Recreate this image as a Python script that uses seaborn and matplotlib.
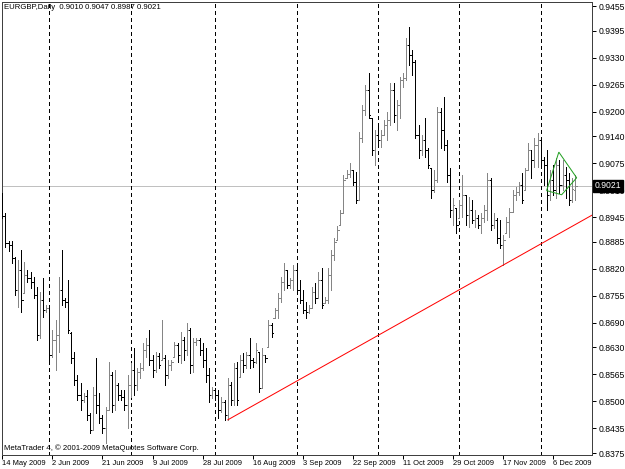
import numpy as np
import pandas as pd
import matplotlib
matplotlib.use('Agg')
import matplotlib.pyplot as plt
import matplotlib.transforms as mtransforms
import seaborn as sns

# EURGBP daily bars, 14 May 2009 .. 14 Dec 2009 (broker sends Sunday bars, no Saturdays)
opens = [
    0.8998, 0.8948, 0.8882, 0.8878, 0.8846, 0.8769, 0.8817, 0.8762, 0.8805, 0.8798,
    0.8788, 0.8757, 0.8660, 0.8745, 0.8721, 0.8725, 0.8612, 0.8648, 0.8660, 0.8769,
    0.8745, 0.8740, 0.8665, 0.8605, 0.8551, 0.8515, 0.8503, 0.8513, 0.8467, 0.8431,
    0.8515, 0.8491, 0.8460, 0.8435, 0.8479, 0.8564, 0.8491, 0.8539, 0.8515, 0.8510,
    0.8491, 0.8539, 0.8576, 0.8539, 0.8571, 0.8580, 0.8624, 0.8636, 0.8600, 0.8576,
    0.8609, 0.8600, 0.8605, 0.8564, 0.8588, 0.8607, 0.8636, 0.8612, 0.8648, 0.8624,
    0.8672, 0.8588, 0.8643, 0.8648, 0.8624, 0.8600, 0.8564, 0.8515, 0.8527, 0.8515,
    0.8479, 0.8498, 0.8467, 0.8539, 0.8503, 0.8580, 0.8559, 0.8600, 0.8588, 0.8612,
    0.8600, 0.8595, 0.8619, 0.8532, 0.8612, 0.8631, 0.8684, 0.8701, 0.8721, 0.8750,
    0.8788, 0.8817, 0.8781, 0.8793, 0.8817, 0.8769, 0.8745, 0.8721, 0.8716, 0.8725,
    0.8764, 0.8750, 0.8793, 0.8737, 0.8745, 0.8805, 0.8853, 0.8890, 0.8926, 0.8955,
    0.9039, 0.9049, 0.9059, 0.9030, 0.8986, 0.9136, 0.9204, 0.9252, 0.9184, 0.9107,
    0.9143, 0.9131, 0.9143, 0.9168, 0.9180, 0.9252, 0.9192, 0.9216, 0.9276, 0.9281,
    0.9361, 0.9337, 0.9320, 0.9143, 0.9107, 0.9131, 0.9107, 0.9064, 0.9010, 0.9035,
    0.9199, 0.9155, 0.9119, 0.9047, 0.8962, 0.8967, 0.8943, 0.8974, 0.8998, 0.8950,
    0.8962, 0.8938, 0.8943, 0.8926, 0.8943, 0.8962, 0.9035, 0.8926, 0.8938, 0.8895,
    0.8878, 0.8907, 0.8933, 0.8957, 0.8998, 0.9006, 0.9023, 0.9010, 0.9059, 0.9107,
    0.9083, 0.9119, 0.9131, 0.9083, 0.9071, 0.8998, 0.9035, 0.9010, 0.9071, 0.9023,
    0.9047, 0.9035, 0.8986, 0.9010,
]
highs = [
    0.9003, 0.8955, 0.8887, 0.8887, 0.8849, 0.8841, 0.8866, 0.8837, 0.8817, 0.8812,
    0.8800, 0.8776, 0.8764, 0.8798, 0.8733, 0.8728, 0.8672, 0.8696, 0.8800, 0.8866,
    0.8750, 0.8793, 0.8667, 0.8619, 0.8564, 0.8544, 0.8520, 0.8527, 0.8472, 0.8535,
    0.8605, 0.8520, 0.8467, 0.8486, 0.8595, 0.8571, 0.8576, 0.8544, 0.8527, 0.8527,
    0.8564, 0.8593, 0.8629, 0.8580, 0.8593, 0.8641, 0.8653, 0.8672, 0.8612, 0.8619,
    0.8617, 0.8696, 0.8612, 0.8600, 0.8600, 0.8643, 0.8641, 0.8667, 0.8655, 0.8689,
    0.8677, 0.8653, 0.8653, 0.8653, 0.8641, 0.8629, 0.8580, 0.8535, 0.8532, 0.8527,
    0.8510, 0.8503, 0.8556, 0.8547, 0.8593, 0.8595, 0.8612, 0.8617, 0.8619, 0.8653,
    0.8605, 0.8641, 0.8619, 0.8629, 0.8612, 0.8696, 0.8689, 0.8725, 0.8762, 0.8800,
    0.8834, 0.8817, 0.8798, 0.8829, 0.8829, 0.8793, 0.8769, 0.8740, 0.8733, 0.8776,
    0.8786, 0.8812, 0.8822, 0.8752, 0.8822, 0.8866, 0.8895, 0.8923, 0.8962, 0.9047,
    0.9059, 0.9076, 0.9059, 0.9054, 0.9151, 0.9216, 0.9264, 0.9293, 0.9184, 0.9155,
    0.9172, 0.9155, 0.9180, 0.9199, 0.9269, 0.9269, 0.9228, 0.9284, 0.9293, 0.9378,
    0.9404, 0.9349, 0.9325, 0.9168, 0.9143, 0.9184, 0.9112, 0.9064, 0.9059, 0.9211,
    0.9209, 0.9235, 0.9131, 0.9064, 0.8991, 0.8967, 0.8986, 0.9047, 0.8998, 0.8994,
    0.8986, 0.8962, 0.8950, 0.8955, 0.8974, 0.9051, 0.9039, 0.8955, 0.8943, 0.8938,
    0.8902, 0.8945, 0.8967, 0.9010, 0.9018, 0.9030, 0.9051, 0.9064, 0.9124, 0.9107,
    0.9136, 0.9148, 0.9131, 0.9090, 0.9107, 0.9059, 0.9071, 0.9088, 0.9083, 0.9083,
    0.9066, 0.9051, 0.9039, 0.9047,
]
lows = [
    0.8943, 0.8873, 0.8863, 0.8834, 0.8757, 0.8728, 0.8716, 0.8762, 0.8788, 0.8774,
    0.8750, 0.8648, 0.8653, 0.8704, 0.8716, 0.8600, 0.8607, 0.8576, 0.8619, 0.8733,
    0.8728, 0.8665, 0.8593, 0.8539, 0.8503, 0.8479, 0.8498, 0.8455, 0.8423, 0.8431,
    0.8472, 0.8448, 0.8423, 0.8399, 0.8479, 0.8474, 0.8479, 0.8503, 0.8503, 0.8479,
    0.8435, 0.8510, 0.8515, 0.8527, 0.8556, 0.8576, 0.8607, 0.8588, 0.8559, 0.8571,
    0.8580, 0.8600, 0.8539, 0.8556, 0.8576, 0.8607, 0.8595, 0.8593, 0.8600, 0.8612,
    0.8568, 0.8571, 0.8636, 0.8612, 0.8583, 0.8547, 0.8498, 0.8508, 0.8503, 0.8460,
    0.8474, 0.8455, 0.8455, 0.8491, 0.8491, 0.8491, 0.8559, 0.8571, 0.8580, 0.8580,
    0.8583, 0.8593, 0.8522, 0.8532, 0.8595, 0.8631, 0.8655, 0.8701, 0.8701, 0.8740,
    0.8769, 0.8774, 0.8774, 0.8769, 0.8762, 0.8737, 0.8713, 0.8701, 0.8713, 0.8725,
    0.8737, 0.8750, 0.8725, 0.8737, 0.8737, 0.8769, 0.8841, 0.8890, 0.8926, 0.8955,
    0.9039, 0.9042, 0.9023, 0.8979, 0.8986, 0.9126, 0.9192, 0.9184, 0.9095, 0.9071,
    0.9114, 0.9114, 0.9143, 0.9131, 0.9168, 0.9175, 0.9155, 0.9184, 0.9259, 0.9276,
    0.9312, 0.9288, 0.9136, 0.9088, 0.9095, 0.9090, 0.9064, 0.8991, 0.9006, 0.9030,
    0.9112, 0.9107, 0.9030, 0.8945, 0.8926, 0.8907, 0.8943, 0.8945, 0.8926, 0.8921,
    0.8931, 0.8921, 0.8919, 0.8907, 0.8933, 0.8938, 0.8914, 0.8919, 0.8882, 0.8870,
    0.8829, 0.8907, 0.8897, 0.8957, 0.8986, 0.8998, 0.8979, 0.9010, 0.9059, 0.9039,
    0.9066, 0.9066, 0.9064, 0.9023, 0.8962, 0.8986, 0.8998, 0.8991, 0.9003, 0.9010,
    0.8991, 0.8974, 0.8981, 0.8987,
]
closes = [
    0.8948, 0.8882, 0.8878, 0.8846, 0.8769, 0.8817, 0.8745, 0.8805, 0.8798, 0.8788,
    0.8757, 0.8660, 0.8745, 0.8721, 0.8725, 0.8612, 0.8648, 0.8660, 0.8769, 0.8745,
    0.8740, 0.8672, 0.8605, 0.8551, 0.8515, 0.8503, 0.8513, 0.8467, 0.8431, 0.8515,
    0.8491, 0.8460, 0.8435, 0.8479, 0.8564, 0.8491, 0.8539, 0.8515, 0.8510, 0.8491,
    0.8539, 0.8576, 0.8539, 0.8571, 0.8580, 0.8624, 0.8636, 0.8600, 0.8576, 0.8609,
    0.8588, 0.8605, 0.8564, 0.8588, 0.8595, 0.8636, 0.8612, 0.8648, 0.8624, 0.8672,
    0.8588, 0.8643, 0.8648, 0.8624, 0.8600, 0.8564, 0.8515, 0.8527, 0.8515, 0.8479,
    0.8498, 0.8467, 0.8539, 0.8503, 0.8580, 0.8503, 0.8600, 0.8588, 0.8612, 0.8600,
    0.8595, 0.8624, 0.8532, 0.8612, 0.8605, 0.8684, 0.8665, 0.8721, 0.8750, 0.8788,
    0.8817, 0.8781, 0.8793, 0.8817, 0.8769, 0.8745, 0.8721, 0.8716, 0.8725, 0.8764,
    0.8750, 0.8793, 0.8733, 0.8745, 0.8805, 0.8853, 0.8885, 0.8914, 0.8955, 0.9035,
    0.9049, 0.9059, 0.9030, 0.8986, 0.9136, 0.9204, 0.9252, 0.9192, 0.9107, 0.9143,
    0.9131, 0.9143, 0.9168, 0.9180, 0.9252, 0.9192, 0.9216, 0.9276, 0.9281, 0.9361,
    0.9337, 0.9320, 0.9143, 0.9107, 0.9131, 0.9107, 0.9071, 0.9010, 0.9035, 0.9199,
    0.9155, 0.9119, 0.9047, 0.8962, 0.8974, 0.8926, 0.8974, 0.8998, 0.8950, 0.8962,
    0.8938, 0.8943, 0.8926, 0.8943, 0.8962, 0.9035, 0.8926, 0.8938, 0.8895, 0.8878,
    0.8890, 0.8933, 0.8957, 0.8998, 0.9006, 0.9023, 0.8986, 0.9059, 0.9107, 0.9083,
    0.9119, 0.9131, 0.9083, 0.9071, 0.8998, 0.9035, 0.9010, 0.9071, 0.9023, 0.9047,
    0.9035, 0.8986, 0.9013, 0.9021,
]

first_day = '2009-05-14'
last_day = '2009-12-14'
date_labels = ['2009-05-14', '2009-06-02', '2009-06-21', '2009-07-09', '2009-07-28', '2009-08-16',
               '2009-09-03', '2009-09-22', '2009-10-11', '2009-10-29', '2009-11-17', '2009-12-06']
price_ticks = ['0.9455', '0.9395', '0.9330', '0.9265', '0.9200', '0.9140', '0.9075', '0.9010', '0.8945',
               '0.8885', '0.8820', '0.8755', '0.8690', '0.8630', '0.8565', '0.8500', '0.8435', '0.8375']
bid = 0.9021

# trendline anchors (bar index, price) and the small triangle object
trend_a = (72, 0.8455)
trend_b = (160, 0.8829)
tri_idx = [173.9, 177.8, 183.5, 178.7]
tri_price = [0.9009, 0.9102, 0.9040, 0.8999]

BAR_UP = '#858585'
BAR_DOWN = '#000000'
PX = 0.72  # one pixel in points at dpi 100

sns.set_theme(style='white')
plt.rcParams['font.family'] = ['Liberation Sans', 'DejaVu Sans']
FS = 6.2        # price scale
FS_SMALL = 5.4  # dates
FS_TEXT = 5.6   # header / copyright

days = pd.date_range(first_day, last_day, freq='D')
days = days[days.dayofweek != 5]
o = np.array(opens)
h = np.array(highs)
l = np.array(lows)
c = np.array(closes)
idx = np.arange(len(c))

fig = plt.figure(figsize=(6.25, 4.69), dpi=100)
ax = fig.add_axes([2 / 625, 14 / 469, 590 / 625, 453 / 469])
ax.set_facecolor('white')

ax.set_xlim(-0.11, 188.4)
ax.set_ylim(0.83702, 0.94647)

# month separators (dotted)
month_start = [i for i in range(1, len(days)) if days[i].month != days[i - 1].month]
ymin, ymax = ax.get_ylim()
for i in month_start:
    ax.plot([i, i], [ymin, ymax], color='black', lw=PX, dashes=(3, 3), antialiased=False,
            solid_capstyle='butt', dash_capstyle='butt', zorder=1)

# bid line
ax.axhline(bid, color='#c0c0c0', lw=PX, zorder=0.5)

# OHLC bars
cols = np.where(c >= o, BAR_UP, BAR_DOWN)
ax.vlines(idx, l, h, colors=cols, lw=PX, antialiased=False, zorder=3)
ax.hlines(o, idx - 0.45, idx, colors=cols, lw=PX, antialiased=False, zorder=3)
ax.hlines(c, idx, idx + 0.45, colors=cols, lw=PX, antialiased=False, zorder=3)

# trendline ray to the right edge
slope = (trend_b[1] - trend_a[1]) / (trend_b[0] - trend_a[0])
x_end = ax.get_xlim()[1]
sns.lineplot(x=[trend_a[0], x_end], y=[trend_a[1], trend_a[1] + slope * (x_end - trend_a[0])],
             ax=ax, color='#ff0000', lw=PX, zorder=4)

# triangle object
ax.fill(tri_idx, tri_price, fill=False, edgecolor='#22a022', lw=PX, zorder=4)

# axes and ticks
for s in ax.spines.values():
    s.set_color('#404040')
    s.set_linewidth(PX)

ax.yaxis.tick_right()
ax.set_yticks([float(t) for t in price_ticks])
ax.set_yticklabels(price_ticks)
ax.tick_params(axis='y', which='both', right=True, left=False, direction='out', length=3,
               width=PX, pad=1.5, labelsize=FS, colors='black')

label_pos = [days.get_loc(pd.Timestamp(d)) for d in date_labels]
ax.set_xticks(label_pos)
ax.set_xticklabels([f"{pd.Timestamp(d).day} {pd.Timestamp(d):%b %Y}" for d in date_labels])
ax.tick_params(axis='x', which='both', bottom=True, direction='out', length=3, width=PX,
               pad=0.8, labelsize=FS_SMALL, colors='black')
for lbl in ax.get_xticklabels():
    lbl.set_horizontalalignment('left')
ax.grid(False)

# bid price box on the price scale (covers the 0.9010 label like the terminal does)
trans = mtransforms.blended_transform_factory(ax.transAxes, ax.transData)
ax.text(1.0 + 3 / 590, bid, f"{bid:.4f}", transform=trans, ha='left', va='center', color='white',
        fontsize=FS, zorder=6, clip_on=False,
        bbox=dict(boxstyle='square,pad=0.18', facecolor='black', edgecolor='black'))

ax.text(0.0035, 0.988, 'EURGBP,Daily  0.9010 0.9047 0.8987 0.9021', transform=ax.transAxes,
        ha='left', va='center', fontsize=FS_TEXT, color='black')
ax.text(0.0035, 0.014, 'MetaTrader 4, \u00a9 2001-2009 MetaQuotes Software Corp.', transform=ax.transAxes,
        ha='left', va='center', fontsize=FS_TEXT, color='black')

fig.savefig('out.png', dpi=100, facecolor='white')
